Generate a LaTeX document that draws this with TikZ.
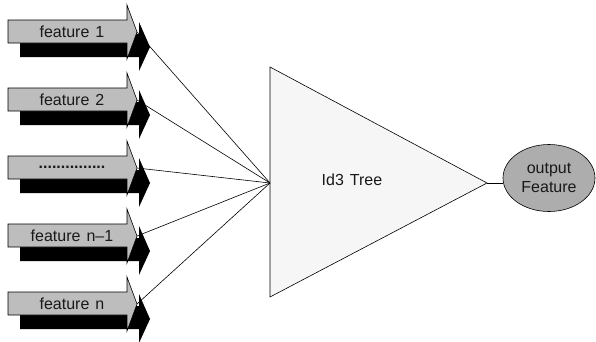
\documentclass[tikz,border=0pt]{standalone}
\usepackage{fontspec}
\setmainfont{Liberation Sans}
\usetikzlibrary{shapes.geometric}
\definecolor{arrowgray}{gray}{0.74}
\definecolor{ellgray}{gray}{0.68}
\definecolor{trifill}{gray}{0.965}
\tikzset{
  grayarrow/.style={fill=arrowgray, draw=black, line width=0.6pt, line join=miter},
  shadowarrow/.style={fill=black},
  link/.style={draw=black, line width=0.6pt},
  lbl/.style={font=\fontsize{16}{18}\selectfont, text=black!90, inner sep=0pt},
  outnode/.style={ellipse, draw=black, line width=0.6pt, fill=ellgray, minimum width=92pt, minimum height=67pt, inner sep=0pt, align=center, font=\fontsize{16}{19}\selectfont, text=black!90}
}
\newcommand\featarrow[3]{%
  \begin{scope}[yshift=-#1pt]
    \fill[shadowarrow] (20,-14) -- (139,-14) -- (139,-2) -- (150,-27) -- (139,-51) -- (139,-37) -- (20,-37) -- cycle;
    \draw[grayarrow] (8,0) -- (127,0) -- (127,15) -- (137,-12) -- (127,-39) -- (127,-23) -- (8,-23) -- cycle;
    \node[lbl] (#2) at (72,-11.5) {#3};
  \end{scope}
}
\begin{document}
\begin{tikzpicture}[x=1pt,y=1pt]
  \useasboundingbox (0,0) rectangle (596,-341);
  % triangle
  \coordinate (tA) at (270,-67);
  \coordinate (tB) at (270,-297);
  \coordinate (apex) at (487,-183);
  \coordinate (conv) at (270,-183);
  \draw[link, fill=trifill] (tA) -- (apex) -- (tB) -- cycle;
  \node[lbl] (tree) at (352,-180) {Id3\hspace{6pt}Tree};
  % tips of arrows
  \coordinate (tip1) at (137,-32);
  \coordinate (tip2) at (137,-100);
  \coordinate (tip3) at (137,-168);
  \coordinate (tip4) at (137,-236);
  \coordinate (tip5) at (137,-304);
  \foreach \t in {tip1,tip2,tip3,tip4,tip5} \draw[link] (\t) -- (conv);
  % arrows
  \featarrow{20}{f1}{feature\hspace{6pt}1}
  \featarrow{88}{f2}{feature\hspace{6pt}2}
  \featarrow{156}{f3}{\textbf{...............}}
  \featarrow{224}{f4}{feature\hspace{6pt}n–1}
  \featarrow{292}{f5}{feature\hspace{6pt}n}
  % output
  \node[outnode] (out) at (549,-178) {output\\Feature};
  \draw[link] (apex) -- (apex -| out.west);
\end{tikzpicture}
\end{document}
